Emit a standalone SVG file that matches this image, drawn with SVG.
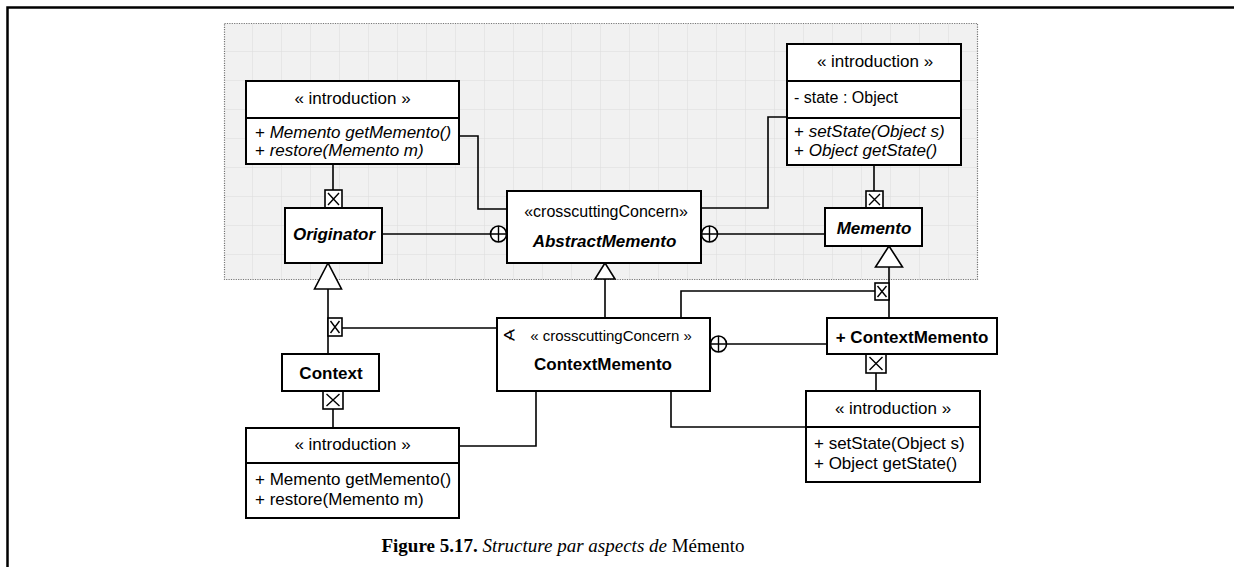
<svg xmlns="http://www.w3.org/2000/svg" width="1234" height="567" viewBox="0 0 1234 567">
  <defs>
    <pattern id="grid" x="224" y="23" width="29" height="29" patternUnits="userSpaceOnUse">
      <rect width="29" height="29" fill="#f1f1f1"/>
      <path d="M29 0 V29 M0 29 H29" stroke="#dcdcdc" stroke-width="1" fill="none"/>
    </pattern>
  </defs>
  <style>
    .box { fill: #ffffff; stroke: #000; stroke-width: 2; }
    .sep { stroke: #000; stroke-width: 2; fill: none; }
    .con { stroke: #000; stroke-width: 1.6; fill: none; }
    .tri { fill: #ffffff; stroke: #000; stroke-width: 1.6; }
    .xbox { fill: #ffffff; stroke: #000; stroke-width: 1.6; }
    .xmark { stroke: #000; stroke-width: 1.4; fill: none; }
    .circ { fill: #ffffff; stroke: #000; stroke-width: 1.6; }
    .t { font-family: "Liberation Sans", Arial, sans-serif; font-size: 17px; fill: #000; }
    .s { font-size: 16px; }
    .s2 { font-size: 15px; }
    .c { text-anchor: middle; }
    .b { font-weight: bold; }
    .i { font-style: italic; }
    .cap { font-family: "Liberation Serif", "Times New Roman", serif; font-size: 19px; fill: #000; text-anchor: middle; }
  </style>

  <!-- outer frame -->
  <path d="M7.5 567 V7.5 H1234" fill="none" stroke="#000" stroke-width="2.5"/>

  <!-- aspect area -->
  <rect x="224.5" y="23.5" width="753" height="256" fill="url(#grid)" stroke="#777" stroke-width="1.2" stroke-dasharray="1.2 1.2"/>

  <!-- connectors -->
  <g id="connectors">
    <line class="con" x1="333" y1="164" x2="333" y2="190"/>
    <rect class="xbox" x="325" y="190" width="17" height="18"/>
    <path class="xmark" d="M328 193 L339 205 M339 193 L328 205"/>
    <line class="con" x1="382" y1="234" x2="490" y2="234"/>
    <circle class="circ" cx="498.5" cy="234" r="8"/>
    <path class="xmark" d="M490.5 234 H506.5 M498.5 226 V242"/>
    <path class="con" d="M459 136 H478 V209 H507"/>
    <path class="con" d="M701 208 H768 V117 H787"/>
    <circle class="circ" cx="709.5" cy="234" r="8"/>
    <path class="xmark" d="M701.5 234 H717.5 M709.5 226 V242"/>
    <line class="con" x1="717.5" y1="234" x2="825" y2="234"/>
    <line class="con" x1="874" y1="165" x2="874" y2="191"/>
    <rect class="xbox" x="866" y="191" width="17" height="17"/>
    <path class="xmark" d="M869 194 L880 205 M880 194 L869 205"/>
    <line class="con" x1="889" y1="267" x2="889" y2="318"/>
    <polygon class="tri" points="889,246 875.5,267 902.5,267"/>
    <rect class="xbox" x="875" y="283" width="14" height="17"/>
    <path class="xmark" d="M877.5 286 L886.5 297 M886.5 286 L877.5 297"/>
    <path class="con" d="M681 318 V291 H875"/>
    <line class="con" x1="328" y1="289" x2="328" y2="354"/>
    <polygon class="tri" points="328,263 314.5,289 341.5,289"/>
    <rect class="xbox" x="328" y="318" width="14" height="18"/>
    <path class="xmark" d="M330.5 321 L339.5 333 M339.5 321 L330.5 333"/>
    <line class="con" x1="342" y1="328" x2="497" y2="328"/>
    <rect class="xbox" x="323" y="391" width="20" height="18"/>
    <path class="xmark" d="M326.5 394 L339.5 406 M339.5 394 L326.5 406"/>
    <line class="con" x1="333" y1="409" x2="333" y2="428"/>
    <path class="con" d="M459 446 H536 V391"/>
    <line class="con" x1="605" y1="279" x2="605" y2="318"/>
    <polygon class="tri" points="605,263 595,279 615,279"/>
    <circle class="circ" cx="718.5" cy="344" r="8"/>
    <path class="xmark" d="M710.5 344 H726.5 M718.5 336 V352"/>
    <line class="con" x1="726.5" y1="344" x2="827" y2="344"/>
    <rect class="xbox" x="866" y="354" width="20" height="19"/>
    <path class="xmark" d="M869.5 357 L882.5 370 M882.5 357 L869.5 370"/>
    <line class="con" x1="876" y1="373" x2="876" y2="391"/>
    <path class="con" d="M671 391 V427 H806"/>
  </g>

  <g id="introOriginator">
    <rect class="box" x="246" y="81" width="213" height="83"/>
    <line class="sep" x1="246" y1="118" x2="459" y2="118"/>
    <text class="t c" x="352.5" y="104">« introduction »</text>
    <text class="t" x="255" y="138">+ <tspan class="i">Memento getMemento()</tspan></text>
    <text class="t" x="255" y="156">+ <tspan class="i">restore(Memento m)</tspan></text>
  </g>

  <g id="originator">
    <rect class="box" x="285" y="208" width="97" height="55"/>
    <text class="t c b i" x="334" y="240">Originator</text>
  </g>

  <g id="abstractMemento">
    <rect class="box" x="507" y="191" width="194" height="72"/>
    <text class="t s c" x="606" y="217">«crosscuttingConcern»</text>
    <text class="t c b i" x="604.5" y="247">AbstractMemento</text>
  </g>

  <g id="introMemento">
    <rect class="box" x="787" y="44" width="174" height="121"/>
    <line class="sep" x1="787" y1="81" x2="961" y2="81"/>
    <line class="sep" x1="787" y1="118" x2="961" y2="118"/>
    <text class="t c" x="875" y="67">« introduction »</text>
    <text class="t s" x="794" y="103">- state : Object</text>
    <text class="t" x="794" y="137">+ <tspan class="i">setState(Object s)</tspan></text>
    <text class="t" x="794" y="156">+ <tspan class="i">Object getState()</tspan></text>
  </g>

  <g id="memento">
    <rect class="box" x="825" y="208" width="97" height="38"/>
    <text class="t c b i" x="874" y="234">Memento</text>
  </g>

  <g id="contextMementoAspect">
    <rect class="box" x="497" y="318" width="213" height="73"/>
    <text class="t" x="502" y="341">∢</text>
    <text class="t s2 c" x="611" y="341">« crosscuttingConcern »</text>
    <text class="t c b" x="603" y="370">ContextMemento</text>
  </g>

  <g id="context">
    <rect class="box" x="282" y="354" width="97" height="37"/>
    <text class="t c b" x="331" y="379">Context</text>
  </g>

  <g id="introContext">
    <rect class="box" x="246" y="428" width="213" height="90"/>
    <line class="sep" x1="246" y1="463" x2="459" y2="463"/>
    <text class="t c" x="352.5" y="450">« introduction »</text>
    <text class="t" x="255" y="485">+ Memento getMemento()</text>
    <text class="t" x="255" y="505">+ restore(Memento m)</text>
  </g>

  <g id="plusContextMemento">
    <rect class="box" x="827" y="318" width="170" height="36"/>
    <text class="t c b" x="912" y="343">+ ContextMemento</text>
  </g>

  <g id="introContextMemento">
    <rect class="box" x="806" y="391" width="174" height="91"/>
    <line class="sep" x1="806" y1="427" x2="980" y2="427"/>
    <text class="t c" x="893" y="414">« introduction »</text>
    <text class="t" x="814" y="449">+ setState(Object s)</text>
    <text class="t" x="814" y="469">+ Object getState()</text>
  </g>

  <text class="cap" x="563" y="552"><tspan font-weight="bold">Figure 5.17.</tspan> <tspan font-style="italic">Structure par aspects de</tspan> Mémento</text>
</svg>
